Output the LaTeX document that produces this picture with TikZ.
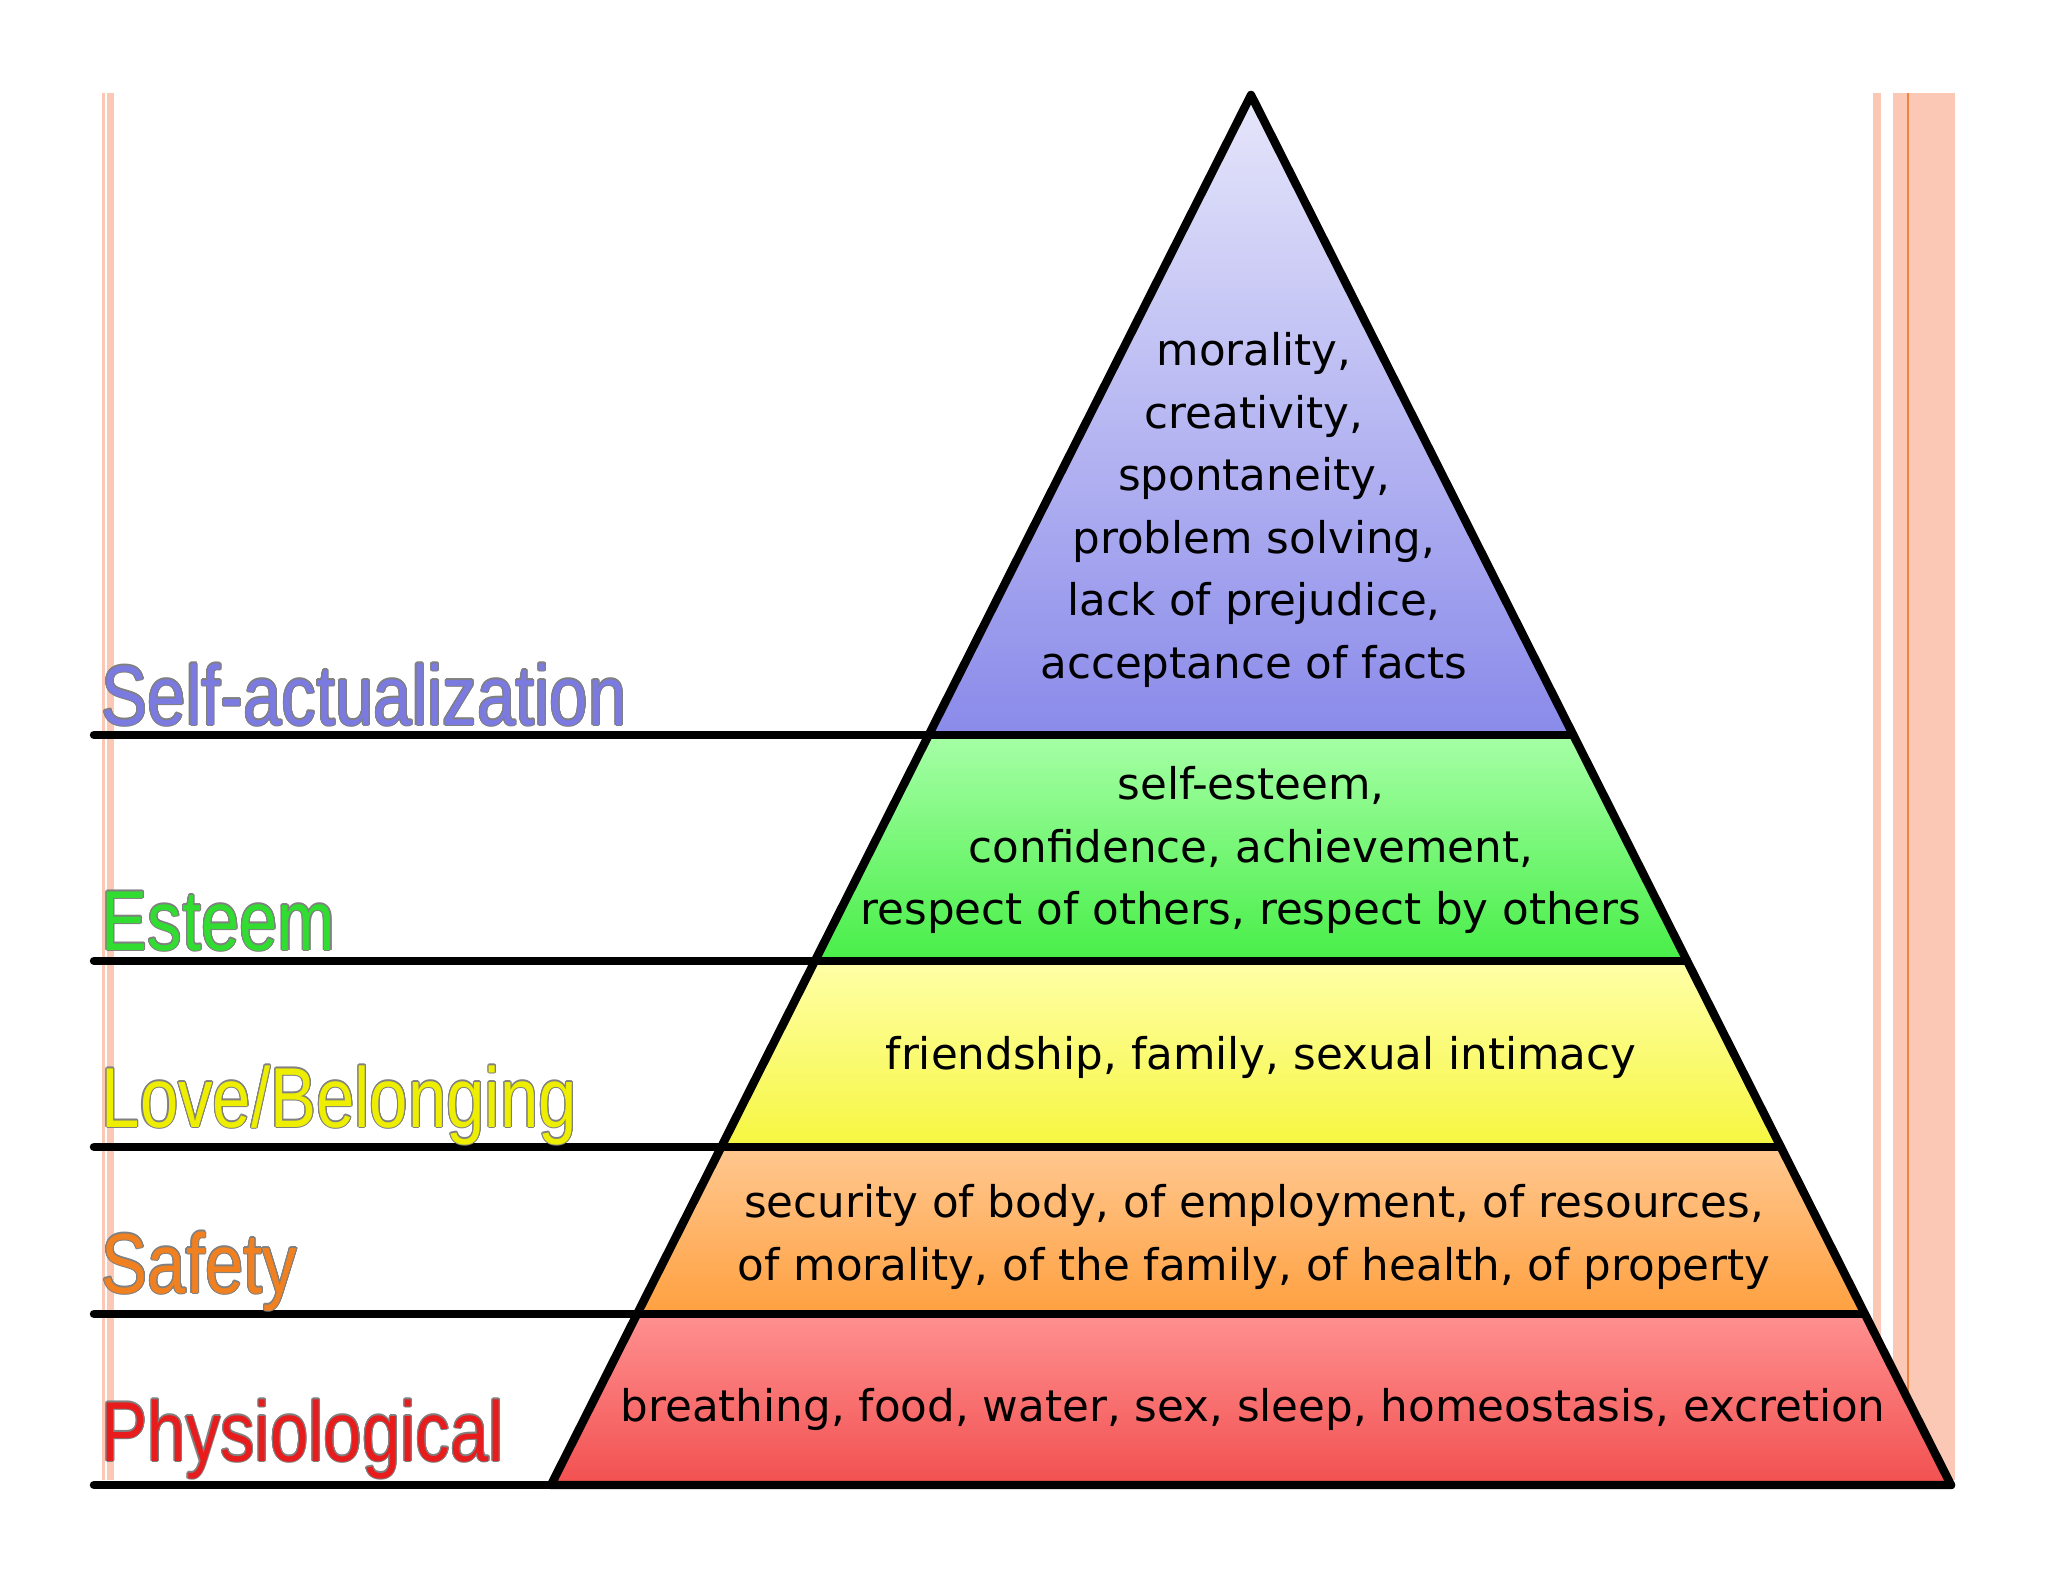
\documentclass[tikz,border=0pt]{standalone}
\usepackage{xcolor}
\usepackage{fontspec}
\setmainfont{DejaVu Sans}
\newfontfamily\lvlfont[FakeStretch=0.81]{Liberation Sans}
\usepackage[copies]{contour}
\contourlength{0.3pt}
\contournumber{16}
\usetikzlibrary{calc,positioning}

\definecolor{barPink}{HTML}{FAC8B4}
\definecolor{barLine}{HTML}{F0843C}
\definecolor{saTop}{HTML}{E6E6FB}
\definecolor{saBot}{HTML}{8A8AEA}
\definecolor{esTop}{HTML}{A6FFA6}
\definecolor{esBot}{HTML}{48EE48}
\definecolor{loTop}{HTML}{FFFFA8}
\definecolor{loBot}{HTML}{F6F640}
\definecolor{sfTop}{HTML}{FFC890}
\definecolor{sfBot}{HTML}{FFA040}
\definecolor{phTop}{HTML}{FF9090}
\definecolor{phBot}{HTML}{F25050}
\definecolor{saText}{HTML}{7A7AE0}
\definecolor{esText}{HTML}{30DD30}
\definecolor{loText}{HTML}{EEEE00}
\definecolor{sfText}{HTML}{F08020}
\definecolor{phText}{HTML}{E81C1C}

\begin{document}
\begin{tikzpicture}[
    x=0.01cm, y=-0.01cm,
    rule/.style={line width=2.4pt, line cap=round},
    edge/.style={line width=2.4pt, line join=round},
    need/.style={align=center, inner sep=0pt, font=\fontsize{12.4}{17.8}\selectfont},
    lvl/.style={anchor=base west, inner sep=0pt, font=\lvlfont\fontsize{24.2}{29}\selectfont},
]
    \useasboundingbox (0,0) rectangle (2048,1582);

    % page margin bars
    \fill[barPink] (102,93) rectangle (105,1480);
    \fill[barPink] (107,93) rectangle (114,1480);
    \fill[barPink] (1873,93) rectangle (1881,1480);
    \fill[barPink] (1893,93) rectangle (1955,1480);
    \draw[barLine, line width=0.6pt] (1908,93) -- (1908,1480);

    \coordinate (apex) at (1251,95);
    \coordinate (bl) at (551,1485);
    \coordinate (br) at (1951,1485);
    \coordinate (lend) at (94,0);
    \foreach \t/\n in {0.4604/a, 0.6230/b, 0.7568/c, 0.8770/d} {
        \coordinate (l\n) at ($(apex)!\t!(bl)$);
        \coordinate (r\n) at ($(apex)!\t!(br)$);
    }

    % tiers
    \shade[top color=saTop, bottom color=saBot] (apex) -- (ra) -- (la) -- cycle;
    \shade[top color=esTop, bottom color=esBot] (la) -- (ra) -- (rb) -- (lb) -- cycle;
    \shade[top color=loTop, bottom color=loBot] (lb) -- (rb) -- (rc) -- (lc) -- cycle;
    \shade[top color=sfTop, bottom color=sfBot] (lc) -- (rc) -- (rd) -- (ld) -- cycle;
    \shade[top color=phTop, bottom color=phBot] (ld) -- (rd) -- (br) -- (bl) -- cycle;

    \draw[edge] (apex) -- (br) -- (bl) -- cycle;
    \draw[rule] (ra) -- (ra -| lend);
    \draw[rule] (rb) -- (rb -| lend);
    \draw[rule] (rc) -- (rc -| lend);
    \draw[rule] (rd) -- (rd -| lend);
    \draw[rule] (br) -- (br -| lend);

    \node[need] (selfact) at (1254,510) {morality,\\creativity,\\spontaneity,\\problem solving,\\lack of prejudice,\\acceptance of facts};
    \node[need] (esteem) at (1251,850) {self-esteem,\\confidence, achievement,\\respect of others, respect by others};
    \node[need] (love) at (1261,1057) {friendship, family, sexual intimacy};
    \node[need] (safety) at (1254,1237) {security of body, of employment, of resources,\\of morality, of the family, of health, of property};
    \node[need] (physio) at (1253,1409) {breathing, food, water, sex, sleep, homeostasis, excretion};

    \node[lvl, text=saText] (lSelf) at (101,725) {\contour{gray}{Self-actualization}};
    \node[lvl, text=esText] (lEsteem) at (101,950) {\contour{gray}{Esteem}};
    \node[lvl, text=loText] (lLove) at (101,1127) {\contour{gray}{Love/Belonging}};
    \node[lvl, text=sfText] (lSafety) at (101,1293) {\contour{gray}{Safety}};
    \node[lvl, text=phText] (lPhysio) at (101,1461) {\contour{gray}{Physiological}};
\end{tikzpicture}
\end{document}
